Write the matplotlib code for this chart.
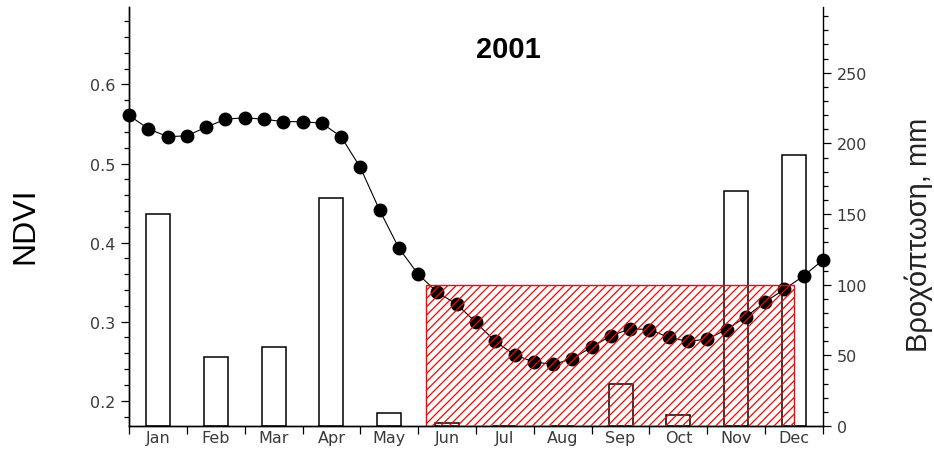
import matplotlib
matplotlib.use("Agg")
import matplotlib.pyplot as plt
from matplotlib.patches import Rectangle
from matplotlib.ticker import MultipleLocator, FixedLocator, NullFormatter
import numpy as np

# NDVI, dekadal values (37 points: start of Jan .. start of next Jan)
ndvi = [0.561, 0.544, 0.534, 0.535, 0.546, 0.556, 0.558, 0.556, 0.553, 0.553,
        0.551, 0.534, 0.495, 0.441, 0.393, 0.360, 0.337, 0.322, 0.299, 0.275,
        0.258, 0.249, 0.246, 0.253, 0.268, 0.282, 0.291, 0.290, 0.280, 0.275,
        0.278, 0.290, 0.306, 0.325, 0.341, 0.358, 0.378]
dekads = np.arange(len(ndvi))

# monthly rainfall (mm)
months = ["Jan", "Feb", "Mar", "Apr", "May", "Jun",
          "Jul", "Aug", "Sep", "Oct", "Nov", "Dec"]
rain = [150, 49, 56, 161, 9.5, 2.4, 0, 0, 30, 8, 166, 192]

# dry period box (dekads, rainfall threshold in mm)
dry_start = 15.4
dry_end = 34.5
dry_level = 100

fig = plt.figure(figsize=(9.34, 4.56), dpi=100)
ax = fig.add_axes([129/934, 29/456, 694/934, 419/456])
ax2 = ax.twinx()

# bars behind the NDVI curve
ax.set_zorder(2)
ax2.set_zorder(1)
ax.patch.set_visible(False)

month_centers = np.arange(12) * 3 + 1.5
ax2.bar(month_centers, rain, width=1.25, color="white", edgecolor="black",
        linewidth=1.1)

ax.plot(dekads, ndvi, color="black", linewidth=0.8, marker="o",
        markersize=9, clip_on=False, zorder=3)

plt.rcParams["hatch.linewidth"] = 0.9
rect = Rectangle((dry_start, 0), dry_end - dry_start, dry_level,
                 transform=ax2.transData, facecolor="none", edgecolor="red",
                 hatch="////", linewidth=1.0, zorder=5)
if hasattr(rect, "set_hatchcolor"):
    rect.set_hatchcolor("red")
ax.add_artist(rect)

ax.set_xlim(0, 36)
ax.set_ylim(0.168, 0.698)
ax2.set_ylim(0, 296.5)

tick_color = "#3a3a3a"
ax.yaxis.set_major_locator(FixedLocator([0.2, 0.3, 0.4, 0.5, 0.6]))
ax.yaxis.set_minor_locator(MultipleLocator(0.02))
ax.yaxis.set_major_formatter(plt.FuncFormatter(lambda v, p: f"{v:.1f}"))
ax2.yaxis.set_major_locator(MultipleLocator(50))
ax2.yaxis.set_minor_locator(MultipleLocator(10))

ax.xaxis.set_major_locator(MultipleLocator(3))
ax.xaxis.set_major_formatter(NullFormatter())
ax.xaxis.set_minor_locator(FixedLocator(month_centers))
ax.set_xticklabels(months, minor=True)

ax.tick_params(axis="y", which="major", length=5.8, width=0.9, pad=4,
               labelsize=11.5, labelcolor=tick_color)
ax.tick_params(axis="y", which="minor", length=3.6, width=0.9)
ax.tick_params(axis="x", which="major", length=5.5, width=0.9)
ax.tick_params(axis="x", which="minor", length=0, pad=3,
               labelsize=11.5, labelcolor=tick_color)
ax2.tick_params(axis="y", which="major", length=5.8, width=0.9, pad=4,
                labelsize=11.5, labelcolor=tick_color)
ax2.tick_params(axis="y", which="minor", length=3.6, width=0.9)

for a in (ax, ax2):
    a.spines["top"].set_visible(False)
    for s in ("left", "right", "bottom"):
        a.spines[s].set_linewidth(1.0)
ax.spines["right"].set_visible(False)

ax.text(0.547, 0.9, "2001", transform=ax.transAxes, ha="center", va="center",
        fontsize=21, fontweight="bold", family="Liberation Sans")

fig.text(25/934, 1 - 226/456, "NDVI", rotation=90, ha="center", va="center",
         fontsize=23, family="Liberation Sans")
fig.text(919/934, 1 - 235/456, "Βροχόπτωση, mm", rotation=90, ha="center",
         va="center", fontsize=21, family="Liberation Sans", color="#222222")

fig.savefig("out.png", dpi=100)
